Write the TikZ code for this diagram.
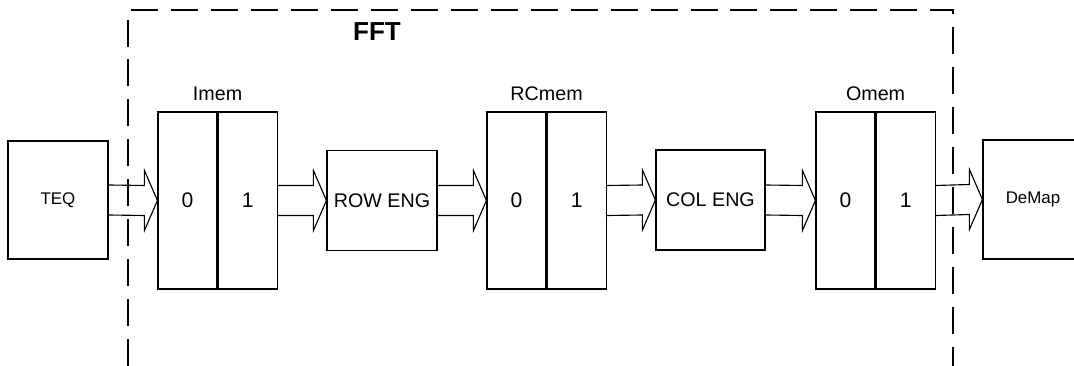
\documentclass[tikz,border=0pt]{standalone}
\usepackage{fontspec}
\setmainfont{Liberation Sans}
\usetikzlibrary{positioning, calc}

\begin{document}
\begin{tikzpicture}[x=0.025cm, y=-0.025cm, line width=0.8pt,
    blk/.style={draw, rectangle, inner sep=0pt, align=center},
    memcell/.style={blk, minimum width=1.475cm, minimum height=4.425cm,
                    font=\fontsize{15}{18}\selectfont},
    eng/.style={blk, minimum height=2.5cm, font=\fontsize{14}{16}\selectfont},
    memlbl/.style={inner sep=0pt, anchor=base, font=\fontsize{14}{16}\selectfont},
    bus/.style={line join=miter}
  ]
  \clip (0,0) rectangle (1074,366);
  \node[blk, minimum width=2.5cm, minimum height=2.95cm, font=\fontsize{12}{14}\selectfont]
       (teq) at (58,200) {TEQ};
  \node[memcell] (imem0) at (187.5,200.5) {0};
  \node[memcell, right=0pt of imem0] (imem1) {1};
  \node[eng, minimum width=2.75cm] (roweng) at (382,200.5) {ROW ENG};
  \node[memcell] (rcmem0) at (516.5,200.5) {0};
  \node[memcell, right=0pt of rcmem0] (rcmem1) {1};
  \node[eng, minimum width=2.725cm] (coleng) at (710.5,200) {COL ENG};
  \node[memcell] (omem0) at (845.5,200.5) {0};
  \node[memcell, right=0pt of omem0] (omem1) {1};
  \node[blk, minimum width=2.5cm, minimum height=2.975cm, font=\fontsize{12}{14}\selectfont]
       (demap) at (1033,199.5) {DeMap};

  \node[memlbl] (imemlbl) at ($(imem0.north east)+(0,-11)$) {Imem};
  \node[memlbl] (rcmemlbl) at ($(rcmem0.north east)+(0,-11)$) {RCmem};
  \node[memlbl] (omemlbl) at ($(omem0.north east)+(0,-11)$) {Omem};
  \node[font=\bfseries\fontsize{18.5}{22}\selectfont] (fft) at (377,32) {FFT};

  \draw[dash pattern=on 19.2pt off 9.2pt] (128,366) -- (128,10) -- (953,10) -- (953,366);

  \foreach \a/\b in {teq/imem0, imem1/roweng, roweng/rcmem0, rcmem1/coleng, coleng/omem0, omem1/demap}
    \draw[bus] ($(\a.east)+(0,-15)$) -- ($(\b.west)+(-13,-15)$) -- ($(\b.west)+(-13,-30)$)
      -- (\b.west) -- ($(\b.west)+(-13,30)$) -- ($(\b.west)+(-13,15)$) -- ($(\a.east)+(0,15)$);
\end{tikzpicture}
\end{document}
